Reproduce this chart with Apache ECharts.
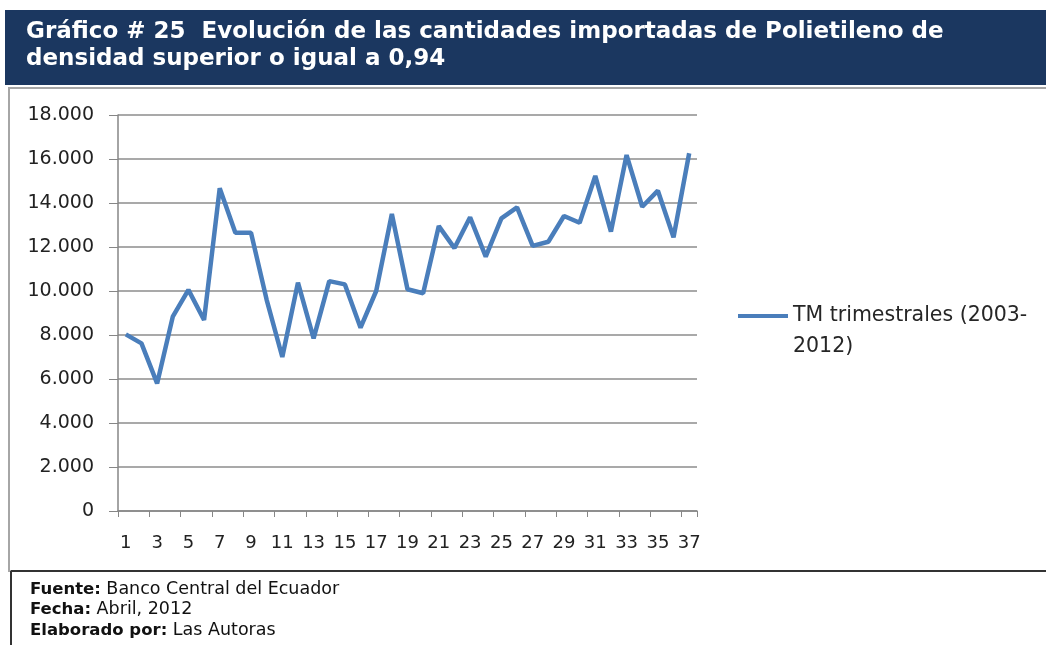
<!DOCTYPE html>
<html>
<head>
<meta charset="utf-8">
<script src="https://cdn.jsdelivr.net/npm/echarts@6/dist/echarts.min.js"></script>
<style>
  html, body { margin: 0; padding: 0; background: #fff; }
  #chart { width: 1046px; height: 645px; }
</style>
</head>
<body>
<div id="chart"></div>
<script>
// quarters 1..37 (2003-2012), imported tonnes
const quarters = Array.from({ length: 37 }, (_, i) => String(i + 1));
const tmTrimestrales = [
  8030, 7620, 5800, 8830, 10050, 8680, 14670, 12650, 12650, 9600,
  7000, 10380, 7850, 10450, 10300, 8330, 10000, 13500, 10080, 9900,
  12950, 11950, 13350, 11560, 13300, 13800, 12050, 12240, 13410, 13100,
  15230, 12700, 16180, 13830, 14560, 12440, 16260
];
const seriesName = 'TM trimestrales (2003-2012)';
// legend label wraps onto two lines in the original
const legendLines = ['TM trimestrales (2003-', '2012)'];
const titleLines = [
  'Gráfico # 25  Evolución de las cantidades importadas de Polietileno de',
  'densidad superior o igual a 0,94'
];
const footer = [
  ['Fuente:', ' Banco Central del Ecuador'],
  ['Fecha:', ' Abril, 2012'],
  ['Elaborado por:', ' Las Autoras']
];

const labelFont = 'DejaVu Sans';

const chart = echarts.init(document.getElementById('chart'));

const footerText = footer.map(([k, v]) => `{b|${k}}{n|${v}}`).join('\n');

chart.setOption({
  animation: false,
  backgroundColor: '#fff',
  grid: { left: 118, right: 349, top: 115, bottom: 134 },
  graphic: [
    // header band
    { type: 'rect', shape: { x: 5, y: 10, width: 1046, height: 75 },
      style: { fill: '#1b3760' }, z: 0 },
    { type: 'text', left: 26, top: 19,
      style: { text: titleLines.join('\n'), fill: '#fff',
               font: 'bold 23px "DejaVu Sans", sans-serif',
               lineHeight: 27 } },
    // chart frame
    { type: 'rect', shape: { x: 9, y: 88, width: 1045, height: 483 },
      style: { fill: 'none', stroke: '#a6a6a6', lineWidth: 2 }, z: 0 },
    // footer frame
    { type: 'line', shape: { x1: 11, y1: 571, x2: 1046, y2: 571 },
      style: { stroke: '#333', lineWidth: 2 } },
    { type: 'line', shape: { x1: 11, y1: 571, x2: 11, y2: 645 },
      style: { stroke: '#333', lineWidth: 2 } },
    { type: 'text', left: 30, top: 579,
      style: { text: footerText, lineHeight: 20.5,
               rich: {
                 b: { font: 'bold 16.5px "DejaVu Sans", sans-serif', fill: '#111', lineHeight: 20.5 },
                 n: { font: '17.5px "DejaVu Sans", sans-serif', fill: '#111', lineHeight: 20.5 }
               } } },
    // second line of the legend label
    { type: 'text', left: 793, top: 336,
      style: { text: legendLines[1], fill: '#262626',
               font: '20.5px "DejaVu Sans", sans-serif' } }
  ],
  legend: {
    left: 738, top: 304, padding: 0,
    orient: 'vertical',
    itemWidth: 50, itemHeight: 4,
    icon: 'rect',
    formatter: () => legendLines[0],
    textStyle: { fontFamily: labelFont, fontSize: 20.5, color: '#262626', lineHeight: 24 },
    data: [seriesName]
  },
  xAxis: {
    type: 'category',
    data: quarters,
    boundaryGap: true,
    axisLine: { lineStyle: { color: '#868686', width: 1.5 } },
    axisTick: { show: true, length: 6, lineStyle: { color: '#868686' } },
    axisLabel: { interval: 1, fontFamily: labelFont, fontSize: 18, color: '#222', margin: 23 },
    splitLine: { show: false }
  },
  yAxis: {
    type: 'value',
    min: 0, max: 18000, interval: 2000,
    axisLine: { show: true, lineStyle: { color: '#868686', width: 1.5 } },
    axisTick: { show: true, length: 9, lineStyle: { color: '#868686' } },
    axisLabel: {
      fontFamily: labelFont, fontSize: 19, color: '#222', margin: 24,
      formatter: v => v === 0 ? '0' : (v / 1000).toFixed(3)
    },
    splitLine: { lineStyle: { color: '#8c8c8c', width: 1.5 } }
  },
  series: [{
    name: seriesName,
    type: 'line',
    data: tmTrimestrales,
    symbol: 'none',
    lineStyle: { color: '#4a7ebb', width: 4.5 },
    itemStyle: { color: '#4a7ebb' }
  }]
});
</script>
</body>
</html>
